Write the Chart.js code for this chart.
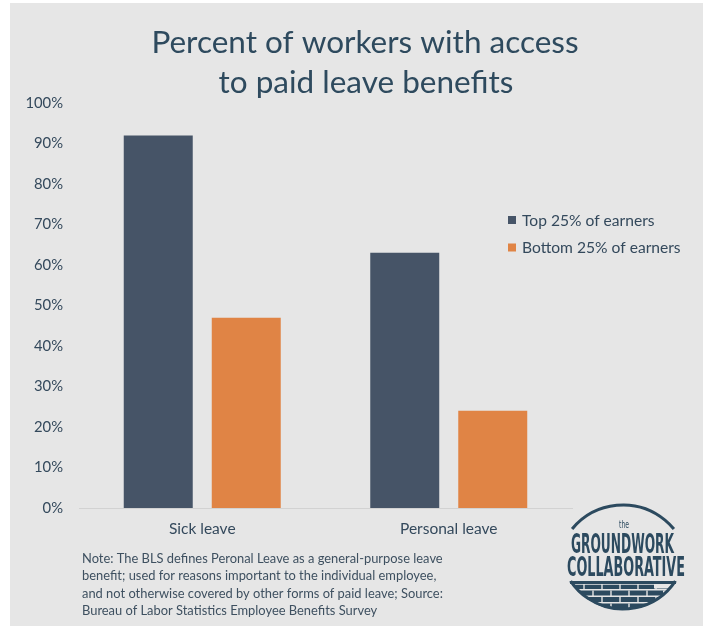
<!DOCTYPE html>
<html>
<head>
<meta charset="utf-8">
<script src="https://cdn.jsdelivr.net/npm/chart.js@4/dist/chart.umd.min.js"></script>
<style>
  html, body { margin: 0; padding: 0; background: #ffffff; }
  #wrap { width: 703px; height: 626px; }
</style>
</head>
<body>
<div id="wrap"><canvas id="c" width="703" height="626"></canvas></div>
<script>
// ---- data ----
const categories = ['Sick leave', 'Personal leave'];
const seriesNames = ['Top 25% of earners', 'Bottom 25% of earners'];
const top25 = [92, 63];
const bottom25 = [47, 24];
const titleLines = ['Percent of workers with access', 'to paid leave benefits'];
const noteLines = [
  'Note: The BLS defines Peronal Leave as a general-purpose leave',
  'benefit; used for reasons important to the individual employee,',
  'and not otherwise covered by other forms of paid leave; Source:',
  'Bureau of Labor Statistics Employee Benefits Survey'
];
const logoWords = ['the', 'GROUNDWORK', 'COLLABORATIVE'];

// ---- styles ----
const FONT = 'Lato, "Open Sans", sans-serif';
const TEXT = '#34495c';
const DARK = '#465467';
const ORANGE = '#e08445';
const BG = '#e6e6e6';
const LOGO = '#2c4a5f';

const bgPlugin = {
  id: 'bg',
  beforeDraw(chart) {
    const ctx = chart.ctx;
    ctx.save();
    ctx.fillStyle = '#ffffff';
    ctx.fillRect(0, 0, chart.width, chart.height);
    ctx.fillStyle = BG;
    ctx.fillRect(10, 3, chart.width - 10, chart.height - 3);
    ctx.restore();
  }
};

const decorPlugin = {
  id: 'decor',
  afterDraw(chart) {
    const ctx = chart.ctx;
    ctx.save();
    // title
    ctx.fillStyle = '#2e4a5e';
    ctx.font = '31.5px ' + FONT;
    ctx.textAlign = 'center';
    ctx.textBaseline = 'middle';
    ctx.fillText(titleLines[0], 365, 43);
    ctx.fillText(titleLines[1], 366, 83);

    // legend
    ctx.font = '15.6px ' + FONT;
    ctx.textAlign = 'left';
    chart.data.datasets.forEach((ds, i) => {
      const y = 220 + i * 27.5;
      ctx.fillStyle = ds.backgroundColor;
      ctx.fillRect(508, y - 4, 8, 8);
      ctx.fillStyle = TEXT;
      ctx.fillText(ds.label, 522, y + 0.5);
    });

    // note
    ctx.font = '12.9px ' + FONT;
    ctx.fillStyle = '#3e5060';
    noteLines.forEach((t, i) => ctx.fillText(t, 82, 559 + i * 17.3));

    // logo
    drawLogo(ctx);
    ctx.restore();
  }
};

function fitText(ctx, text, x, y, w) {
  const m = ctx.measureText(text).width;
  ctx.save();
  ctx.translate(x, y);
  ctx.scale(w / m, 1);
  ctx.fillText(text, 0, 0);
  ctx.restore();
}

function drawLogo(ctx) {
  ctx.save();
  ctx.strokeStyle = LOGO;
  ctx.fillStyle = LOGO;
  ctx.lineWidth = 3;
  ctx.beginPath();
  ctx.arc(623, 571, 66, Math.PI + 0.69, 2 * Math.PI - 0.69);
  ctx.stroke();

  ctx.textAlign = 'left';
  ctx.textBaseline = 'alphabetic';
  ctx.font = '10px "Liberation Sans Narrow", "DejaVu Sans Condensed", sans-serif';
  fitText(ctx, logoWords[0], 619, 528, 10);
  ctx.font = 'bold 27px "Liberation Sans Narrow", "DejaVu Sans Condensed", sans-serif';
  fitText(ctx, logoWords[1], 571, 553, 103);
  ctx.font = 'bold 26px "Liberation Sans Narrow", "DejaVu Sans Condensed", sans-serif';
  fitText(ctx, logoWords[2], 567, 576, 118);

  // brick bowl
  ctx.save();
  ctx.beginPath();
  ctx.rect(555, 581, 140, 40);
  ctx.clip();
  ctx.beginPath();
  ctx.arc(623, 546, 64, 0, Math.PI * 2);
  ctx.fill();
  // staircase light areas on the right
  ctx.fillStyle = BG;
  ctx.fillRect(654, 584, 40, 4.5);
  ctx.fillRect(663, 590.5, 40, 4.5);
  ctx.fillRect(671, 597, 40, 4.5);
  // mortar
  ctx.strokeStyle = BG;
  ctx.lineWidth = 1.4;
  const rows = [584, 590.5, 597, 603.5, 610];
  for (let r = 0; r < rows.length - 1; r++) {
    const y0 = rows[r], y1 = rows[r + 1];
    ctx.beginPath();
    ctx.moveTo(555, y1 - 0.7); ctx.lineTo(695, y1 - 0.7);
    ctx.stroke();
    const off = (r % 2) ? 9 : 0;
    for (let x = 566 + off; x < 690; x += 18) {
      ctx.beginPath();
      ctx.moveTo(x, y0); ctx.lineTo(x, y1 - 0.7);
      ctx.stroke();
    }
  }
  ctx.beginPath();
  ctx.moveTo(555, 584); ctx.lineTo(695, 584);
  ctx.stroke();
  ctx.restore();
  // rim
  ctx.strokeStyle = LOGO;
  ctx.lineWidth = 3;
  ctx.beginPath();
  ctx.moveTo(570, 582.5); ctx.lineTo(676, 582.5);
  ctx.stroke();
  ctx.beginPath();
  ctx.arc(623, 546, 63, 0.59, Math.PI - 0.59);
  ctx.stroke();
  ctx.restore();
}

new Chart(document.getElementById('c'), {
  type: 'bar',
  data: {
    labels: categories,
    datasets: [
      { label: seriesNames[0], data: top25, backgroundColor: DARK },
      { label: seriesNames[1], data: bottom25, backgroundColor: ORANGE }
    ]
  },
  options: {
    responsive: false,
    animation: false,
    layout: { padding: { left: 0, right: 131, top: 103, bottom: 0 } },
    categoryPercentage: 0.714,
    barPercentage: 0.784,
    plugins: {
      legend: { display: false },
      title: { display: false },
      tooltip: { enabled: false }
    },
    scales: {
      x: {
        grid: { display: false, drawTicks: false },
        border: { display: true, color: '#d2d2d2', width: 1 },
        ticks: { color: TEXT, font: { family: FONT, size: 15.5 }, padding: 12 },
        afterFit(s) { s.height = 118; }
      },
      y: {
        min: 0, max: 100,
        grid: { display: false, drawTicks: false },
        border: { display: false },
        ticks: {
          stepSize: 10,
          color: TEXT,
          font: { family: FONT, size: 14.8 },
          padding: 16,
          callback: v => v + '%'
        },
        afterFit(s) { s.width = 79; }
      }
    }
  },
  plugins: [bgPlugin, decorPlugin]
});
</script>
</body>
</html>
